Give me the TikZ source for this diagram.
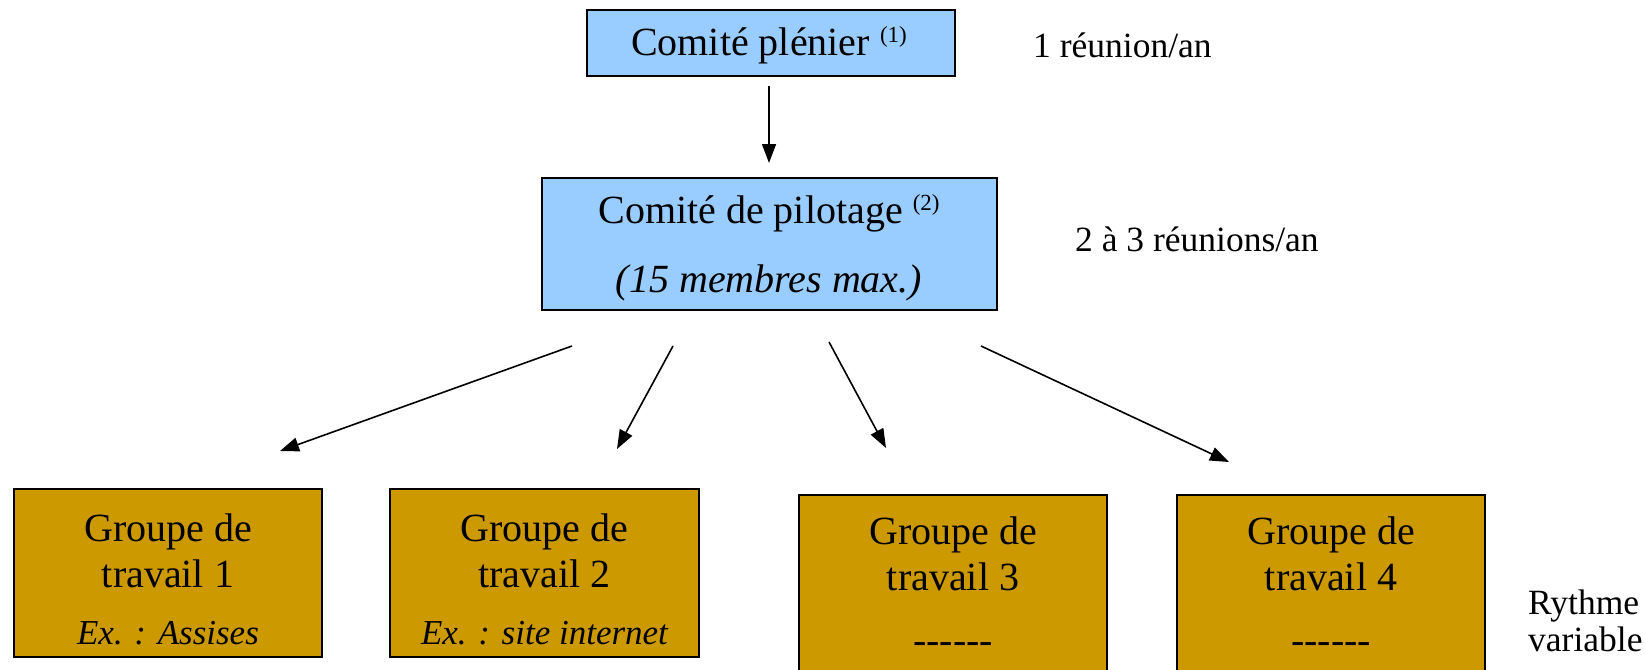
\documentclass[tikz,border=0pt]{standalone}
\usepackage{fontspec}
\setmainfont{Liberation Serif}
\usetikzlibrary{arrows.meta}
\definecolor{boxblue}{HTML}{99CCFF}
\definecolor{boxgold}{HTML}{CC9900}
\newcommand{\supnote}[1]{{\fontsize{23}{23}\selectfont\raisebox{13pt}{#1}}}
\newcommand{\sixdash}{\mbox{-}\mbox{-}\mbox{-}\mbox{-}\mbox{-}\mbox{-}}
\begin{document}
\begin{tikzpicture}[x=1pt,y=-1pt,
  bluebox/.style={draw=black, line width=1.5pt, fill=boxblue, inner sep=0pt},
  goldbox/.style={draw=black, line width=1.5pt, fill=boxgold, inner sep=0pt},
  txt/.style={inner sep=0pt, align=center, font=\fontsize{40}{46}\selectfont},
  extxt/.style={inner sep=0pt, align=center, font=\fontsize{35}{40}\selectfont\itshape},
  side/.style={inner sep=0pt, align=left, anchor=west, font=\fontsize{35.5}{37}\selectfont},
  arr/.style={line width=1.6pt, -{Triangle[length=19pt,width=14pt]}}]
\useasboundingbox (0,0) rectangle (1645,669);

% blue boxes
\node[bluebox, minimum width=368pt, minimum height=66pt] (cp) at (771,43) {};
\node[txt] (cpt) at (769,45) {Comité plénier \supnote{(1)}};
\node[bluebox, minimum width=455pt, minimum height=132pt] (pil) at (769.5,244) {};
\node[txt] (pilt1) at (769,213) {Comité de pilotage \supnote{(2)}};
\node[txt] (pilt2) at (769,283) {\itshape (15 membres max.)};

% side texts
\node[side] (r1) at (1033,45) {1 réunion/an};
\node[side] (r2) at (1075,239) {2 à 3 réunions/an};
\node[side] (r3) at (1528,621) {Rythme\\variable};

% gold boxes
\node[goldbox, minimum width=308pt, minimum height=168pt] (g1) at (168,573) {};
\node[goldbox, minimum width=309pt, minimum height=168pt] (g2) at (544.5,573) {};
\node[goldbox, minimum width=308pt, minimum height=220pt] (g3) at (953,605) {};
\node[goldbox, minimum width=308pt, minimum height=220pt] (g4) at (1331,605) {};

\node[txt] (g1t) at (168,551) {Groupe de\\travail 1};
\node[extxt] (g1e) at (168,633) {Ex. : Assises};
\node[txt] (g2t) at (544.5,551) {Groupe de\\travail 2};
\node[extxt] (g2e) at (544.5,633) {Ex. : site internet};
\node[txt] (g3t) at (953,554) {Groupe de\\travail 3};
\node[txt] (g3e) at (953,648) {\sixdash};
\node[txt] (g4t) at (1331,554) {Groupe de\\travail 4};
\node[txt] (g4e) at (1331,648) {\sixdash};

% arrow ends
\coordinate (a0s) at (769,86);
\coordinate (a0e) at (769,163);
\coordinate (a1s) at (572,346);
\coordinate (a1e) at (280,451);
\coordinate (a2s) at (673,346);
\coordinate (a2e) at (617,449);
\coordinate (a3s) at (829,342);
\coordinate (a3e) at (886,448);
\coordinate (a4s) at (981,346);
\coordinate (a4e) at (1229,462);

\draw[arr] (a0s) -- (a0e);
\draw[arr] (a1s) -- (a1e);
\draw[arr] (a2s) -- (a2e);
\draw[arr] (a3s) -- (a3e);
\draw[arr] (a4s) -- (a4e);
\end{tikzpicture}
\end{document}
